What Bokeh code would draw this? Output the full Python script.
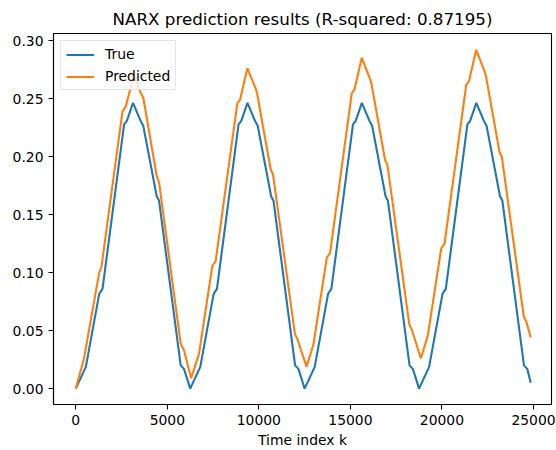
from bokeh.plotting import figure
from bokeh.models import Range1d, FixedTicker, NumeralTickFormatter, BasicTickFormatter
from bokeh.embed import file_html
from bokeh.resources import INLINE

# Measured output (vertices of the polyline, time index k vs value)
true_k = [0, 550, 1280, 1460, 2640, 2790, 3125, 3540, 3690, 4420, 4550, 5730, 5910,
          6250, 6800, 7530, 7710, 8890, 9040, 9375, 9790, 9940, 10670, 10800, 11980, 12160,
          12500, 13050, 13780, 13960, 15140, 15290, 15625, 16040, 16190, 16920, 17050, 18230, 18410,
          18750, 19300, 20030, 20210, 21390, 21540, 21875, 22290, 22440, 23170, 23300, 24480, 24660,
          24850]
true_y = [0.0, 0.0187, 0.0817, 0.086, 0.228, 0.231, 0.2465, 0.231, 0.2265, 0.166, 0.162, 0.020, 0.017,
          0.0, 0.0187, 0.0817, 0.086, 0.228, 0.231, 0.2465, 0.231, 0.2265, 0.166, 0.162, 0.020, 0.017,
          0.0, 0.0187, 0.0817, 0.086, 0.228, 0.231, 0.2465, 0.231, 0.2265, 0.166, 0.162, 0.020, 0.017,
          0.0, 0.0187, 0.0817, 0.086, 0.228, 0.231, 0.2465, 0.231, 0.2265, 0.166, 0.162, 0.020, 0.017,
          0.005]

# NARX model prediction
pred_k = [0, 450, 1280, 1400, 2550, 2730, 3180, 3550, 3690, 4420, 4550, 5730, 5910,
          6300, 6730, 7460, 7640, 8825, 8970, 9370, 9825, 9900, 10645, 10770, 11970, 12100,
          12600, 12980, 13710, 13890, 15075, 15220, 15620, 16075, 16150, 16895, 17020, 18220, 18350,
          18850, 19230, 19960, 20140, 21325, 21470, 21870, 22325, 22400, 23145, 23270, 24470, 24600,
          24850]
pred_y = [0.0, 0.026, 0.100, 0.1046, 0.239, 0.2435, 0.2708, 0.255, 0.2507, 0.1834, 0.1777, 0.0387, 0.033,
          0.009, 0.030, 0.106, 0.110, 0.2464, 0.249, 0.2765, 0.259, 0.255, 0.189, 0.185, 0.047, 0.043,
          0.019, 0.038, 0.113, 0.117, 0.255, 0.258, 0.2854, 0.267, 0.263, 0.197, 0.193, 0.055, 0.051,
          0.026, 0.046, 0.121, 0.125, 0.262, 0.265, 0.2923, 0.274, 0.270, 0.204, 0.200, 0.062, 0.058,
          0.044]

r_squared = 0.87195
x_ticks = [0, 5000, 10000, 15000, 20000, 25000]
y_ticks = [0.00, 0.05, 0.10, 0.15, 0.20, 0.25, 0.30]

FONT = "DejaVu Sans"

p = figure(width=556, height=450, output_backend="svg", toolbar_location=None,
           x_range=Range1d(-1217, 25983), y_range=Range1d(-0.01374, 0.3064),
           min_border_left=53, min_border_right=5, min_border_top=33, min_border_bottom=44,
           title=f"NARX prediction results (R-squared: {r_squared})")

p.background_fill_color = "white"
p.border_fill_color = "white"
p.outline_line_color = "black"
p.outline_line_width = 1.1
p.grid.visible = False

p.title.text_font = FONT
p.title.text_font_size = "16.7px"
p.title.text_font_style = "normal"
p.title.text_color = "black"
p.title.align = "center"

for ax in (p.xaxis[0], p.yaxis[0]):
    ax.axis_line_color = "black"
    ax.axis_line_width = 1.1
    ax.major_tick_line_color = "black"
    ax.major_tick_line_width = 1.1
    ax.major_tick_out = 5
    ax.major_tick_in = 0
    ax.minor_tick_line_color = None
    ax.major_label_text_font = FONT
    ax.major_label_text_font_size = "13.9px"
    ax.major_label_text_color = "black"
    ax.major_label_standoff = 5

p.xaxis.ticker = FixedTicker(ticks=x_ticks)
p.xaxis.formatter = BasicTickFormatter(use_scientific=False)
p.yaxis.ticker = FixedTicker(ticks=y_ticks)
p.yaxis.formatter = NumeralTickFormatter(format="0.00")

p.xaxis.axis_label = "Time index k"
p.xaxis.axis_label_text_font = FONT
p.xaxis.axis_label_text_font_size = "13.9px"
p.xaxis.axis_label_text_font_style = "normal"
p.xaxis.axis_label_text_color = "black"
p.xaxis.axis_label_standoff = 4

p.line(true_k, true_y, line_color="#1f77b4", line_width=2.1, legend_label="True")
p.line(pred_k, pred_y, line_color="#ff7f0e", line_width=2.1, legend_label="Predicted")

lg = p.legend[0]
lg.location = "top_left"
lg.margin = 7
lg.padding = 5
lg.spacing = 6
lg.glyph_width = 28
lg.glyph_height = 15
lg.label_height = 15
lg.label_standoff = 11
lg.label_text_font = FONT
lg.label_text_font_size = "13.9px"
lg.label_text_color = "black"
lg.border_line_color = "#cccccc"
lg.border_line_width = 1
lg.background_fill_alpha = 0.8

open("out.html", "w").write(file_html(p, INLINE))
